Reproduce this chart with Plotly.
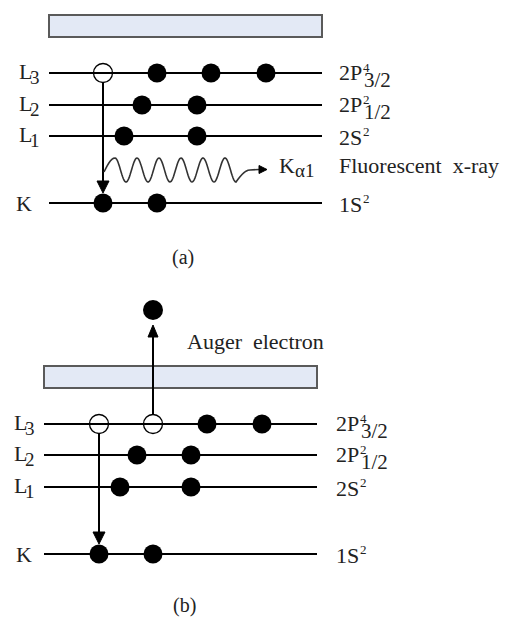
import numpy as np
import plotly.graph_objects as go

W, H = 506, 618

# ---------------- data ----------------
level_names = ["L3", "L2", "L1", "K"]
level_main = ["L", "L", "L", "K"]
level_sub = ["3", "2", "1", ""]
config_main = ["2P", "2P", "2S", "1S"]
config_sup = ["4", "2", "2", "2"]
config_sub = ["3/2", "1/2", "", ""]

# electron / hole x-positions along each level (panel a, panel b)
electrons_a = {"L3": [157, 211, 266], "L2": [142, 197], "L1": [124, 197], "K": [103, 157]}
holes_a = {"L3": [103]}
electrons_b = {"L3": [207, 262], "L2": [137, 191], "L1": [120, 191], "K": [99, 153]}
holes_b = {"L3": [99, 153]}

panel_labels = ["(a)", "(b)"]
process_a = "Fluorescent\u00a0 x-ray"
process_b = "Auger\u00a0 electron"

# ---------------- geometry ----------------
panels = [
    dict(levels_y=[73, 105, 136, 203], x0=49, x1=322, box=(15, 37), lab_x=17, k_x=14,
         right_x=337, el=electrons_a, holes=holes_a, cap=(183, 257)),
    dict(levels_y=[424, 455, 487, 554], x0=44, x1=317, box=(366, 388), lab_x=12, k_x=14,
         right_x=334, el=electrons_b, holes=holes_b, cap=(184, 605)),
]

FONT = "Liberation Serif"
TXT = "#222222"
shapes = []
annotations = []


def txt(x, y, s, size, anchor="left"):
    annotations.append(dict(x=x, y=y, xref="x", yref="y", text=s, showarrow=False,
                            xanchor=anchor, yanchor="middle",
                            font=dict(family=FONT, size=size, color=TXT)))


def tri(tip, base_c, hw, vertical=True):
    tx, ty = tip
    bx, by = base_c
    if vertical:
        p = f"M {bx-hw},{by} L {bx+hw},{by} L {tx},{ty} Z"
    else:
        p = f"M {bx},{by-hw} L {bx},{by+hw} L {tx},{ty} Z"
    shapes.append(dict(type="path", path=p, xref="x", yref="y", fillcolor="black",
                       line=dict(color="black", width=1), layer="above"))


fig = go.Figure()

for pi, P in enumerate(panels):
    # box
    shapes.append(dict(type="rect", xref="x", yref="y", x0=P["x0"], x1=P["x1"],
                       y0=P["box"][0], y1=P["box"][1], fillcolor="#e3e9f5",
                       line=dict(color="#5a5a5a", width=2), layer="below"))
    # level lines
    for y in P["levels_y"]:
        shapes.append(dict(type="line", xref="x", yref="y", x0=P["x0"], x1=P["x1"],
                           y0=y, y1=y, line=dict(color="black", width=2), layer="below"))
    # electrons
    ex, ey, hx, hy = [], [], [], []
    for name, y in zip(level_names, P["levels_y"]):
        for x in P["el"].get(name, []):
            ex.append(x); ey.append(y)
        for x in P["holes"].get(name, []):
            hx.append(x); hy.append(y)
    fig.add_trace(go.Scatter(x=ex, y=ey, mode="markers", hoverinfo="skip",
                             marker=dict(size=19, color="black", line=dict(width=0))))
    fig.add_trace(go.Scatter(x=hx, y=hy, mode="markers", hoverinfo="skip",
                             marker=dict(size=19, symbol="circle-open",
                                         color="black", line=dict(width=1.3))))
    # left labels
    for name, m, s, y in zip(level_names, level_main, level_sub, P["levels_y"]):
        if s:
            txt(P["lab_x"], y - 2, m, 22)
            txt(P["lab_x"] + 11, y + 4, s, 19)
        else:
            txt(P["k_x"], y, m, 22)
    # right labels
    for m, sp, sb, y in zip(config_main, config_sup, config_sub, P["levels_y"]):
        rx = P["right_x"]
        if sb:
            txt(rx, y - 1, m, 22)
            txt(rx + 24, y - 6, sp, 13)
            txt(rx + 25, y + 7, sb, 21)
        else:
            txt(rx, y + 1, m, 22)
            txt(rx + 24, y - 5, sp, 13)
    txt(P["cap"][0], P["cap"][1], panel_labels[pi], 20, anchor="center")

    # transition arrow L3 hole -> K
    hole_x = P["holes"]["L3"][0]
    yL3, yK = P["levels_y"][0], P["levels_y"][3]
    tip = yK - 10
    shapes.append(dict(type="line", xref="x", yref="y", x0=hole_x, x1=hole_x,
                       y0=yL3 + 10, y1=tip - 10, line=dict(color="black", width=2),
                       layer="above"))
    tri((hole_x, tip), (hole_x, tip - 12), 6)

# ---- panel a: fluorescent wave ----
Pa = panels[0]
xs = [104.0]
ys = [172.0]
# lead-in to first crest
lead = np.linspace(0, 1, 8)[1:]
for t in lead:
    xs.append(104 + 11 * t)
    ys.append(172 - 14 * np.sin(t * np.pi / 2))
xw = np.linspace(115, 236, 160)
yw = 170 - 12 * np.cos(2 * np.pi * (xw - 115) / 22)
xs += list(xw[1:]); ys += list(yw[1:])
tail = np.linspace(0, 1, 8)[1:]
for t in tail:
    xs.append(236 + 14 * t)
    ys.append(182 - 12 * np.sin(t * np.pi / 2))
xs.append(259); ys.append(169.5)
path = "M " + " L ".join(f"{x:.2f},{y:.2f}" for x, y in zip(xs, ys))
shapes.append(dict(type="path", path=path, xref="x", yref="y",
                   line=dict(color="#333333", width=1.6), layer="above"))
tri((267, 169.5), (259, 169.5), 4, vertical=False)
txt(277, 165, "K", 22)
txt(293, 170, "\u03b11", 19)
txt(Pa["right_x"], 165, process_a, 22)

# ---- panel b: Auger electron ----
Pb = panels[1]
ax = Pb["holes"]["L3"][1]
ayL3 = Pb["levels_y"][0]
shapes.append(dict(type="line", xref="x", yref="y", x0=ax, x1=ax, y0=ayL3 - 10, y1=336,
                   line=dict(color="black", width=2), layer="above"))
tri((ax, 325), (ax, 337), 5)
fig.add_trace(go.Scatter(x=[ax], y=[310], mode="markers", hoverinfo="skip",
                         marker=dict(size=20, color="black", line=dict(width=0))))
txt(185, 341, process_b, 22)

fig.update_layout(
    width=W, height=H, margin=dict(l=0, r=0, t=0, b=0),
    paper_bgcolor="white", plot_bgcolor="white", showlegend=False,
    xaxis=dict(range=[0, W], visible=False, fixedrange=True),
    yaxis=dict(range=[H, 0], visible=False, fixedrange=True),
    shapes=shapes, annotations=annotations,
)
fig.write_html("out.html")
